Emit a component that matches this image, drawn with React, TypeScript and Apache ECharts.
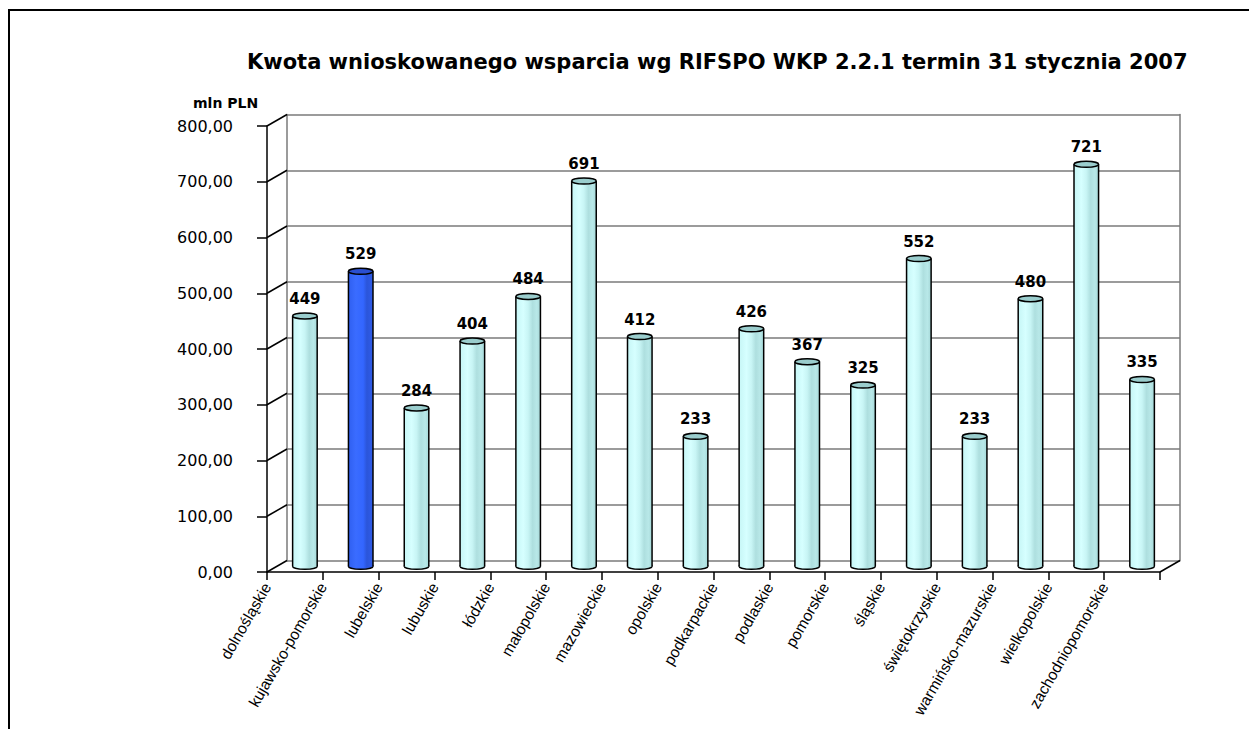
import React, { useEffect, useRef } from "react";
import * as echarts from "echarts";

const categories = [
  "dolnośląskie",
  "kujawsko-pomorskie",
  "lubelskie",
  "lubuskie",
  "łódzkie",
  "małopolskie",
  "mazowieckie",
  "opolskie",
  "podkarpackie",
  "podlaskie",
  "pomorskie",
  "śląskie",
  "świętokrzyskie",
  "warmińsko-mazurskie",
  "wielkopolskie",
  "zachodniopomorskie",
];
const values = [449, 529, 284, 404, 484, 691, 412, 233, 426, 367, 325, 552, 233, 480, 721, 335];
const highlightIndex = 1;
const yTicks = [0, 100, 200, 300, 400, 500, 600, 700, 800];
const titleText = "Kwota wnioskowanego wsparcia wg RIFSPO WKP 2.2.1 termin 31 stycznia 2007";
const unitText = "mln PLN";

const FRONT = { left: 267, right: 89, top: 126, bottom: 157 };
const DX = 20;
const DY = 11.5;

export default function App() {
  const ref = useRef<HTMLDivElement>(null);
  useEffect(() => {
    const chart = echarts.init(ref.current!, null, { renderer: "svg" });
    const back = { left: FRONT.left + DX, right: FRONT.right - DX, top: FRONT.top - DY, bottom: FRONT.bottom + DY };
    const mid = { left: FRONT.left + DX / 2, right: FRONT.right - DX / 2, top: FRONT.top - DY / 2, bottom: FRONT.bottom + DY / 2 };
    const yMax = yTicks[yTicks.length - 1];
    const yStep = yTicks[1] - yTicks[0];
    const gray = "#7a7a7a";

    const cyanBody = new echarts.graphic.LinearGradient(0, 0, 1, 0, [
      { offset: 0, color: "#C6F6F6" },
      { offset: 0.3, color: "#D6FFFF" },
      { offset: 0.5, color: "#C8F5F5" },
      { offset: 0.68, color: "#AEDFDF" },
      { offset: 0.85, color: "#B8E8E8" },
      { offset: 1, color: "#A6D8D8" },
    ]);
    const blueBody = new echarts.graphic.LinearGradient(0, 0, 1, 0, [
      { offset: 0, color: "#2F5FF0" },
      { offset: 0.3, color: "#3A6CFF" },
      { offset: 0.6, color: "#3366FF" },
      { offset: 0.75, color: "#2B55DA" },
      { offset: 1, color: "#2F5CE8" },
    ]);

    chart.setOption({
      animation: false,
      backgroundColor: "#ffffff",
      title: [
        {
          text: titleText,
          left: 242,
          top: 46,
          textStyle: { fontFamily: "DejaVu Sans", fontWeight: "bold", fontSize: 21, color: "#000" },
        },
        {
          text: unitText,
          left: 188,
          top: 91,
          textStyle: { fontFamily: "DejaVu Sans", fontWeight: "bold", fontSize: 14, color: "#000" },
        },
      ],
      graphic: [
        {
          type: "rect",
          shape: { x: 9, y: 10, width: 1400, height: 900 },
          style: { fill: "none", stroke: "#000", lineWidth: 2 },
          silent: true,
        },
      ],
      grid: [
        { ...back, containLabel: false },
        { ...mid, containLabel: false },
        { ...FRONT, containLabel: false },
      ],
      xAxis: [
        { gridIndex: 0, type: "category", data: categories, show: false },
        { gridIndex: 1, type: "category", data: categories, show: false },
        {
          gridIndex: 2,
          type: "category",
          data: [...categories, ""],
          boundaryGap: false,
          axisLine: { show: true, lineStyle: { color: "#000", width: 1.5 } },
          axisTick: { show: true, interval: 0, length: 8, lineStyle: { color: "#000", width: 1.5 } },
          axisLabel: {
            interval: 0,
            rotate: 60,
            margin: 12,
            fontFamily: "Liberation Sans",
            fontSize: 15.5,
            color: "#000",
          },
          splitLine: { show: false },
        },
      ],
      yAxis: [
        {
          gridIndex: 0,
          type: "value",
          min: 0,
          max: yMax,
          interval: yStep,
          axisLabel: { show: false },
          axisTick: { show: false },
          axisLine: { show: true, lineStyle: { color: gray, width: 1.5 } },
          splitLine: { show: true, lineStyle: { color: gray, width: 1.5 } },
        },
        {
          gridIndex: 0,
          type: "value",
          position: "right",
          min: 0,
          max: yMax,
          interval: yStep,
          axisLabel: { show: false },
          axisTick: { show: false },
          axisLine: { show: true, lineStyle: { color: gray, width: 1.5 } },
          splitLine: { show: false },
        },
        { gridIndex: 1, type: "value", min: 0, max: yMax, interval: yStep, show: false },
        {
          gridIndex: 2,
          type: "value",
          min: 0,
          max: yMax,
          interval: yStep,
          axisLine: { show: true, lineStyle: { color: "#000", width: 1.5 } },
          axisTick: { show: true, length: 10, lineStyle: { color: "#000", width: 1.5 } },
          axisLabel: {
            margin: 34,
            fontFamily: "DejaVu Sans",
            fontSize: 16,
            color: "#000",
            formatter: (v: number) => v.toFixed(2).replace(".", ","),
          },
          splitLine: { show: false },
        },
      ],
      series: [
        {
          type: "custom",
          name: "frame",
          xAxisIndex: 2,
          yAxisIndex: 3,
          silent: true,
          clip: false,
          data: yTicks.map((v) => [0, v]),
          renderItem: (params: any, api: any) => {
            const p = api.coord([0, api.value(1)]);
            const children: any[] = [
              {
                type: "line",
                shape: { x1: p[0], y1: p[1], x2: p[0] + DX, y2: p[1] - DY },
                style: { stroke: "#000", lineWidth: 1.5 },
              },
            ];
            if (params.dataIndex === 0) {
              const q = api.coord([categories.length, 0]);
              children.push({
                type: "line",
                shape: { x1: q[0], y1: q[1], x2: q[0] + DX, y2: q[1] - DY },
                style: { stroke: "#000", lineWidth: 1.5 },
              });
            }
            return { type: "group", children };
          },
        },
        {
          type: "custom",
          name: "bars",
          xAxisIndex: 1,
          yAxisIndex: 2,
          silent: true,
          clip: false,
          data: values.map((v, i) => [i, v]),
          renderItem: (params: any, api: any) => {
            const i = api.value(0);
            const v = api.value(1);
            const top = api.coord([i, v]);
            const base = api.coord([i, 0]);
            const band = api.size([1, 0])[0];
            const w = band * 0.44;
            const cx = top[0];
            const x0 = cx - w / 2;
            const ry = 3;
            const isHi = params.dataIndex === highlightIndex;
            const body = isHi ? blueBody : cyanBody;
            const topFill = isHi ? "#2A4FD0" : "#9ACDCD";
            return {
              type: "group",
              children: [
                {
                  type: "ellipse",
                  shape: { cx, cy: base[1], rx: w / 2, ry },
                  style: { fill: body, stroke: "#000", lineWidth: 1.5 },
                },
                {
                  type: "rect",
                  shape: { x: x0, y: top[1], width: w, height: base[1] - top[1] },
                  style: { fill: body, stroke: "none" },
                },
                {
                  type: "line",
                  shape: { x1: x0, y1: top[1], x2: x0, y2: base[1] },
                  style: { stroke: "#000", lineWidth: 1.5 },
                },
                {
                  type: "line",
                  shape: { x1: x0 + w, y1: top[1], x2: x0 + w, y2: base[1] },
                  style: { stroke: "#000", lineWidth: 1.5 },
                },
                {
                  type: "ellipse",
                  shape: { cx, cy: top[1], rx: w / 2, ry },
                  style: { fill: topFill, stroke: "#000", lineWidth: 1.5 },
                },
                {
                  type: "text",
                  style: {
                    text: String(v),
                    x: cx,
                    y: top[1] - 17,
                    align: "center",
                    verticalAlign: "middle",
                    fontFamily: "DejaVu Sans",
                    fontWeight: "bold",
                    fontSize: 15,
                    fill: "#000",
                  },
                },
              ],
            };
          },
        },
      ],
    });
    return () => chart.dispose();
  }, []);
  return (
    <div
      ref={ref}
      style={{ position: "fixed", left: 0, top: 0, width: 1249, height: 729, background: "#fff" }}
    />
  );
}
